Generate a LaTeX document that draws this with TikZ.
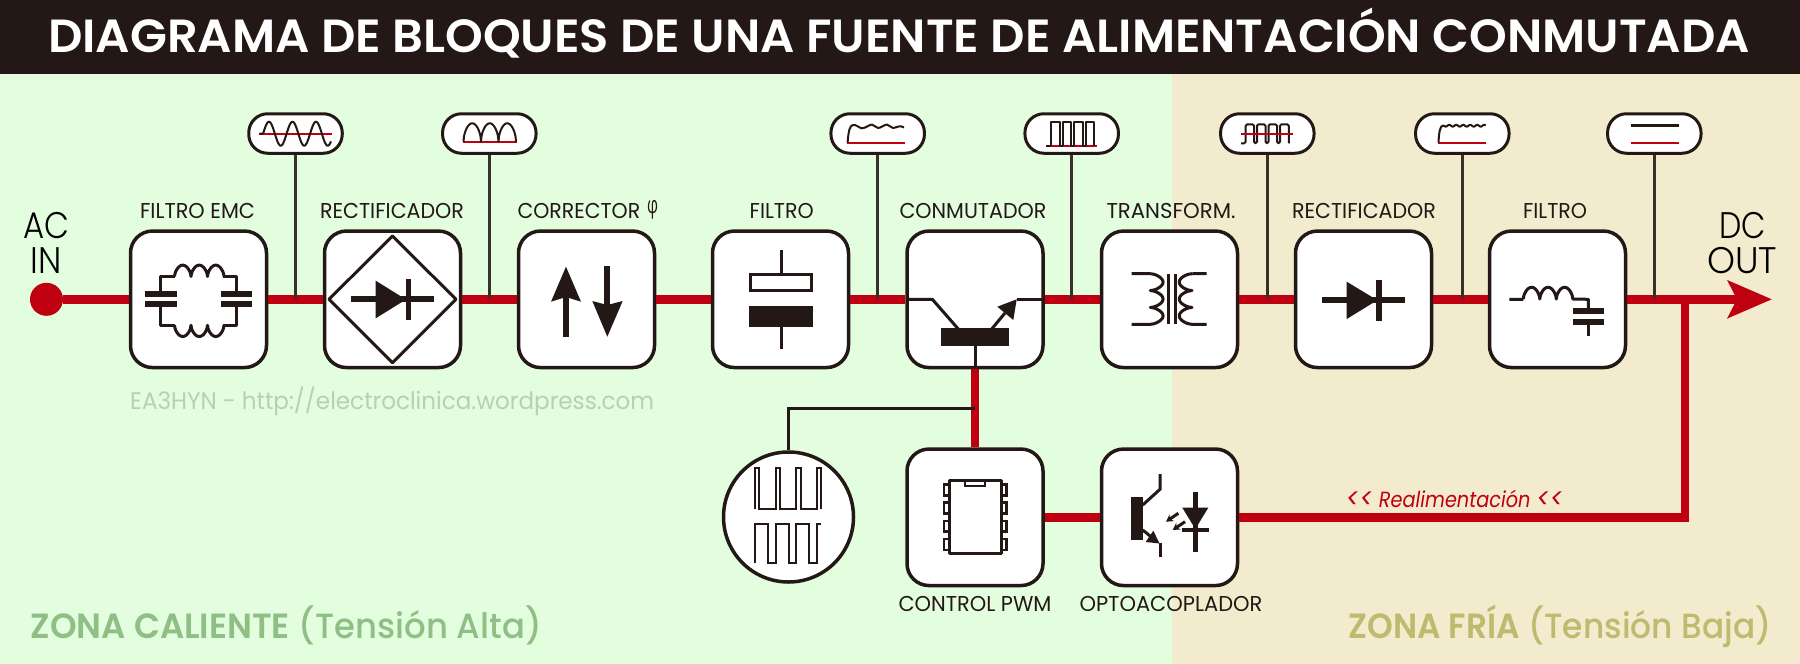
\documentclass[tikz,border=0pt]{standalone}
\usepackage{graphicx}
\usepackage{fontspec}
\setmainfont{Poppins}
\newfontfamily\litefont{Poppins Light}
\newfontfamily\medfont{Poppins Medium}
\newfontfamily\semifont{Poppins SemiBold}
\newfontfamily\phifont{Open Sans}
\usetikzlibrary{arrows.meta,shapes.geometric}
\definecolor{ink}{HTML}{231815}
\definecolor{redc}{HTML}{BF0010}
\definecolor{hotbg}{HTML}{E2FEDF}
\definecolor{coldbg}{HTML}{F3EBCE}
\definecolor{hottxt}{HTML}{8FBF85}
\definecolor{coldtxt}{HTML}{BDBB70}
\definecolor{marktxt}{HTML}{B7D0B4}
\newsavebox\fitbox
\newcommand\fitx[2]{\sbox\fitbox{#2}\pgfmathsetmacro\fitscale{#1/\the\wd\fitbox}\scalebox{\fitscale}[1]{\usebox\fitbox}}
\newcommand\sz[1]{\fontsize{#1}{#1}\selectfont}
\tikzset{
 blockbox/.style={draw=ink,fill=white,line width=3.5pt,rounded corners=22pt,minimum width=136pt,minimum height=136.5pt,inner sep=0pt},
 pillbox/.style={draw=ink,fill=white,line width=3pt,rounded corners=19pt,minimum width=93.5pt,minimum height=39.5pt,inner sep=0pt},
 redline/.style={draw=redc,line width=8.5pt},
 stem/.style={draw=ink!90,line width=2.5pt},
 wave/.style={draw=ink,line width=2pt,line join=round},
 redwave/.style={draw=redc,line width=2.2pt},
 ic/.style={draw=ink,line width=3pt,line join=round},
 icthick/.style={draw=ink,line width=6pt},
 lab/.style={text=ink,anchor=base,inner sep=0pt,font=\sz{21.5}},
 big/.style={text=black,anchor=base,inner sep=0pt,font=\litefont\sz{37}},
}
\begin{document}
\begin{tikzpicture}[x=1pt,y=-1pt]
\useasboundingbox (0,0) rectangle (1800,664);
% backgrounds
\fill[hotbg] (0,0) rectangle (1172,664);
\fill[coldbg] (1172,0) rectangle (1800,664);
\fill[ink] (0,0) rectangle (1800,73.5);
\node[anchor=base,inner sep=0pt,text=white,font=\semifont\sz{46.5}] (title) at (899,52.7) {\fitx{1702}{DIAGRAMA DE BLOQUES DE UNA FUENTE DE ALIMENTACIÓN CONMUTADA}};
% zone and mark texts
\node[anchor=base west,inner sep=0pt,text=hottxt,font=\medfont\sz{35}] (zhot) at (30.5,638.3) {\fitx{511}{{\semifont ZONA CALIENTE} (Tensión Alta)}};
\node[anchor=base west,inner sep=0pt,text=coldtxt,font=\medfont\sz{35}] (zcold) at (1348.3,638.3) {\fitx{423}{{\semifont ZONA FRÍA} (Tensión Baja)}};
\node[anchor=base west,inner sep=0pt,text=marktxt,font=\sz{24}] (mark) at (130,409) {\fitx{524}{EA3HYN - http://electroclinica.wordpress.com}};
\node[anchor=base west,inner sep=0pt,text=redc,font=\itshape\sz{22}] (realim) at (1345.7,507.7) {\fitx{217.6}{\raisebox{-1pt}{\sz{28}<{}<} Realimentación \raisebox{-1pt}{\sz{28}<{}<}}};
% nodes
\node[circle,fill=redc,minimum size=33pt,inner sep=0pt] (acin) at (46.5,299.3) {};
\coordinate (j1) at (295.5,299.3);
\coordinate (j2) at (489.3,299.3);
\coordinate (j4) at (877.7,299.3);
\coordinate (j5) at (1071.7,299.3);
\coordinate (j6) at (1267.3,299.3);
\coordinate (j7) at (1462.3,299.3);
\coordinate (j8) at (1654.3,299.3);
\coordinate (jout) at (1684.8,299.3);
\coordinate (fbc) at (1684.8,517.3);
\coordinate (outtip) at (1772,299.3);
\coordinate (jpwm) at (975,408);
\coordinate (cwc) at (788.5,408);
% connector layer
\foreach \n/\xx in {p1/295.5,p2/489.3,p4/877.7,p5/1071.7,p6/1267.3,p7/1462.3,p8/1654.3}{\node[pillbox,draw=none,fill=none] (\n) at (\xx,133.5) {};}
\node[blockbox] (b1) at (198.5,299.3) {};
\node[blockbox] (b2) at (392.5,299.3) {};
\node[blockbox] (b3) at (586.5,299.3) {};
\node[blockbox] (b4) at (780.5,299.3) {};
\node[blockbox] (b5) at (975,299.3) {};
\node[blockbox] (b6) at (1169.5,299.3) {};
\node[blockbox] (b7) at (1363.5,299.3) {};
\node[blockbox] (b8) at (1557.5,299.3) {};
\node[blockbox] (pwm) at (975,517.3) {};
\node[blockbox] (opto) at (1169.5,517.3) {};
\node[circle,draw=ink,fill=white,line width=3.5pt,minimum size=130pt,inner sep=0pt] (cw) at (788.5,517) {};
\draw[redline] (acin) -- (b1);
\draw[redline] (b1) -- (b2);
\draw[redline] (b2) -- (b3);
\draw[redline] (b3) -- (b4);
\draw[redline] (b4) -- (b5);
\draw[redline] (b5) -- (b6);
\draw[redline] (b6) -- (b7);
\draw[redline] (b7) -- (b8);
\draw[redline,-{Stealth[length=44pt,width=37pt,inset=9pt]}] (b8) -- (outtip);
\draw[redline,line join=miter] (opto) -- (fbc) -- (jout);
\draw[redline] (pwm) -- (opto);
\draw[redline] (b5) -- (pwm);
\draw[ink,line width=3pt] (jpwm) -- (cwc) -- (cw);
\foreach \n/\j in {p1/j1,p2/j2,p4/j4,p5/j5,p6/j6,p7/j7,p8/j8}{\draw[stem] (\n) -- (\j);}
\foreach \n/\xx in {p1/295.5,p2/489.3,p4/877.7,p5/1071.7,p6/1267.3,p7/1462.3,p8/1654.3}{\node[pillbox] at (\xx,133.5) {};}
% labels
\node[lab] (l1) at (197.5,218.3) {\fitx{115}{FILTRO EMC}};
\node[lab] (l2) at (392,218.3) {\fitx{144}{RECTIFICADOR}};
\node[lab,anchor=base west] (l3) at (517.3,218.3) {\fitx{122.7}{CORRECTOR}};
\node[lab,anchor=base west,font=\phifont\sz{24}] (l3b) at (647,213) {\fitx{11}{φ}};
\node[lab] (l4) at (781.7,218.3) {\fitx{64}{FILTRO}};
\node[lab] (l5) at (973,218.3) {\fitx{147}{CONMUTADOR}};
\node[lab] (l6) at (1171,218.3) {\fitx{129}{TRANSFORM.}};
\node[lab] (l7) at (1364,218.3) {\fitx{144}{RECTIFICADOR}};
\node[lab] (l8) at (1555,218.3) {\fitx{64}{FILTRO}};
\node[lab] (l9) at (975,611.7) {\fitx{153}{CONTROL PWM}};
\node[lab] (l10) at (1171,611.7) {\fitx{183}{OPTOACOPLADOR}};
\node[big] (ac) at (46.7,238.3) {\fitx{46}{AC}};
\node[big] (in) at (46.2,273) {\fitx{31}{IN}};
\node[big] (dc) at (1742.5,238.3) {\fitx{46.7}{DC}};
\node[big] (ou) at (1742,273) {\fitx{70}{OUT}};
% ---- pill waves
\draw[redwave] (259.3,133.7) -- (331.7,133.7);
\draw[wave] (259.5,133.7) -- (263.1,133.7) plot[domain=263.1:331,samples=90,smooth] (\x,{133.7-12*sin((\x-263.1)/23.5*360)});
\draw[redwave] (462.7,142.3) -- (516.7,142.3);
\draw[wave] plot[domain=0:540,samples=121] ({463.5+\x/180*17.5},{142.3-19*(abs(sin(\x))+0.001)^0.5});
\draw[redwave] (847.3,142.7) -- (905,142.7);
\draw[wave] (847.6,142.7) .. controls (848.5,130) and (850,125.5) .. (853,125) .. controls (856,124.2) and (859,128) .. (862,128.3) .. controls (866,128) and (869,124.6) .. (872,124.6) .. controls (874,124.6) and (876,128) .. (878,128) .. controls (881,128) and (884,124.6) .. (887,124.6) .. controls (889,124.6) and (891,128) .. (893,128) .. controls (896,128) and (900,124.4) .. (904,127.5);
\draw[redwave] (1046,145.7) -- (1096.7,145.7);
\draw[wave] (1046,145.7) -- (1051,145.7) -- (1051,121.7) -- (1059.5,121.7) -- (1059.5,145.7) -- (1062.5,145.7) -- (1062.5,121.7) -- (1071,121.7) -- (1071,145.7) -- (1074,145.7) -- (1074,121.7) -- (1082.5,121.7) -- (1082.5,145.7) -- (1085.5,145.7) -- (1085.5,121.7) -- (1094,121.7) -- (1094,145.7);
\draw[wave,rounded corners=1.5pt] (1241,143.3) -- (1245.7,143.3) -- (1245.7,124.3) -- (1254,124.3) -- (1254,143.3) -- (1257,143.3) -- (1257,124.3) -- (1265.5,124.3) -- (1265.5,143.3) -- (1268.5,143.3) -- (1268.5,124.3) -- (1277,124.3) -- (1277,143.3) -- (1280,143.3) -- (1280,124.3) -- (1288.8,124.3) -- (1288.8,143.3);
\draw[redwave] (1241,133.7) -- (1293.3,133.7);
\draw[redwave] (1438.3,142.7) -- (1485.7,142.7);
\draw[wave] (1438.5,142.7) .. controls (1439,132) and (1440,126) .. (1443,125.5) -- (1444,125.5) plot[domain=1444:1485.7,samples=60,smooth] (\x,{125.7+0.9*sin((\x-1444)/7*360)});
\draw[ink,line width=2.5pt] (1630.7,125.3) -- (1679,125.3);
\draw[redc,line width=2.5pt] (1630.7,143) -- (1679,143);
% ---- b1 EMC
\draw[ic] (176,293.7) -| (160.7,276.7) -- (175,276.7);
\draw[ic] (176,304.3) -| (160.7,325) -- (175,325);
\draw[ic] (221,293.7) -| (236.7,276.7) -- (223,276.7);
\draw[ic] (221,304.3) -| (236.7,325) -- (223,325);
\draw[ic] plot[domain=0:540,samples=121] ({174.5+\x/180*16.5},{276.7-11.5*(abs(sin(\x))+0.001)^0.55});
\draw[ic] plot[domain=0:540,samples=121] ({174.5+\x/180*16.5},{325+11.5*(abs(sin(\x))+0.001)^0.55});
\draw[icthick] (145,293.7) -- (176.7,293.7) (145,304.3) -- (176.7,304.3) (220.7,293.7) -- (252.3,293.7) (220.7,304.3) -- (252.3,304.3);
% ---- b2 bridge
\draw[ic] (329,299.3) -- (392.5,236) -- (456,299.3) -- (392.5,362.7) -- cycle;
\draw[icthick] (351,299.3) -- (434,299.3);
\fill[ink] (375.7,280.7) -- (406,299.5) -- (375.7,318.3) -- cycle;
\draw[ink,line width=5.5pt] (408.7,279) -- (408.7,320);
% ---- b3 arrows
\draw[icthick] (566,290) -- (566,337.3);
\fill[ink] (566,266.7) -- (581,301.7) -- (566,297) -- (551,301.7) -- cycle;
\draw[icthick] (607.3,266) -- (607.3,312);
\fill[ink] (607.3,336.7) -- (592.3,301) -- (607.3,305) -- (622.7,301) -- cycle;
% ---- b4 capacitor
\draw[ic] (781,250) -- (781,273);
\draw[ink,line width=3.5pt] (750.7,274.4) rectangle (811.6,290.6);
\fill[ink] (749,305.7) rectangle (813.3,326.7);
\draw[ic] (781,326) -- (781,349);
% ---- b5 transistor
\draw[ic,line join=miter] (907,299.3) -- (932.3,299.3) -- (958.3,329);
\fill[ink] (940.7,328.3) rectangle (1009.3,346);
\draw[ic] (991.7,329) -- (1005,313);
\fill[ink] (1016.7,299.3) -- (997.3,306.7) -- (1013.3,320) -- cycle;
\draw[ic] (1016.7,299.3) -- (1043,299.3);
\draw[ic] (975,346) -- (975,367);
% ---- b6 transformer
\draw[ic] (1131.7,273.7) -- (1150,273.7) plot[domain=0:540,samples=121] ({1150+13*(abs(sin(\x))+0.001)^0.55},{273.7+\x/180*16.87}) -- (1131.7,324.3);
\draw[ic] (1206.7,273.7) -- (1192.3,273.7) plot[domain=0:540,samples=121] ({1192.3-13*(abs(sin(\x))+0.001)^0.55},{273.7+\x/180*16.87}) -- (1206.7,324.3);
\draw[ic] (1168.5,274) -- (1168.5,323.5) (1175,274) -- (1175,323.5);
% ---- b7 diode
\draw[icthick] (1322.3,300) -- (1405,300);
\fill[ink] (1346.7,281.7) -- (1377.3,300.2) -- (1346.7,319) -- cycle;
\draw[icthick] (1379.3,280) -- (1379.3,320.7);
% ---- b8 LC
\draw[ic] (1509.3,299.3) -- (1523.3,299.3) plot[domain=0:540,samples=121] ({1523.3+\x/180*16.5},{299.3-12*(abs(sin(\x))+0.001)^0.55}) -- (1588.3,299.3) -- (1588.3,310);
\draw[icthick] (1572.7,310.7) -- (1604.3,310.7) (1572.7,321.7) -- (1604.3,321.7);
\draw[ic] (1588.3,322) -- (1588.3,335.7);
% ---- PWM chip
\draw[ic] (949.3,480) rectangle (1001,553.3);
\draw[ink,line width=2.2pt] (965,480) rectangle (984.6,485.7);
\foreach \ya/\yb in {484.3/495.7,502.3/513.3,521/531.7,539/550}{
 \draw[ink,line width=2.6pt] (943.8,\ya) rectangle (949.3,\yb);
 \draw[ink,line width=2.6pt] (1001,\ya) rectangle (1006.5,\yb);
}
% ---- opto
\fill[ink] (1131.3,496.7) rectangle (1142.7,540);
\draw[ic,line join=miter] (1142.7,505) -- (1160,489.3) -- (1160,474);
\draw[ic] (1142.7,530) -- (1152,537.5);
\fill[ink] (1159.5,543.5) -- (1145.7,542) -- (1153.3,530.7) -- cycle;
\draw[ic] (1160,543) -- (1160,557.3);
\draw[ink,line width=4.5pt] (1195.3,491.7) -- (1195.3,551.7);
\fill[ink] (1182.3,507.7) -- (1208.3,507.7) -- (1195.3,529) -- cycle;
\draw[ink,line width=4pt] (1182,530) -- (1208.5,530);
\draw[ink,line width=3pt,-{Stealth[length=7pt,width=8pt]}] (1178.3,513.3) -- (1166,521.7);
\draw[ink,line width=3pt,-{Stealth[length=7pt,width=8pt]}] (1185,521.7) -- (1172.7,530);
% ---- circle waves
\draw[wave,line join=miter] (755.4,509) -- (755.4,468.3) -- (759,468.3) -- (759,509) -- (776,509) -- (776,468.3) -- (780.4,468.3) -- (780.4,509) -- (796.4,509) -- (796.4,468.3) -- (800.8,468.3) -- (800.8,509) -- (817,509) -- (817,468.3) -- (821.4,468.3) -- (821.4,509);
\draw[wave,line join=miter] (755.4,563.3) -- (755.4,524) -- (767.9,524) -- (767.9,563.3) -- (775.7,563.3) -- (775.7,524) -- (788.6,524) -- (788.6,563.3) -- (795.7,563.3) -- (795.7,524) -- (809,524) -- (809,563.3) -- (816.8,563.3) -- (816.8,524) -- (821.4,524);
\end{tikzpicture}
\end{document}
